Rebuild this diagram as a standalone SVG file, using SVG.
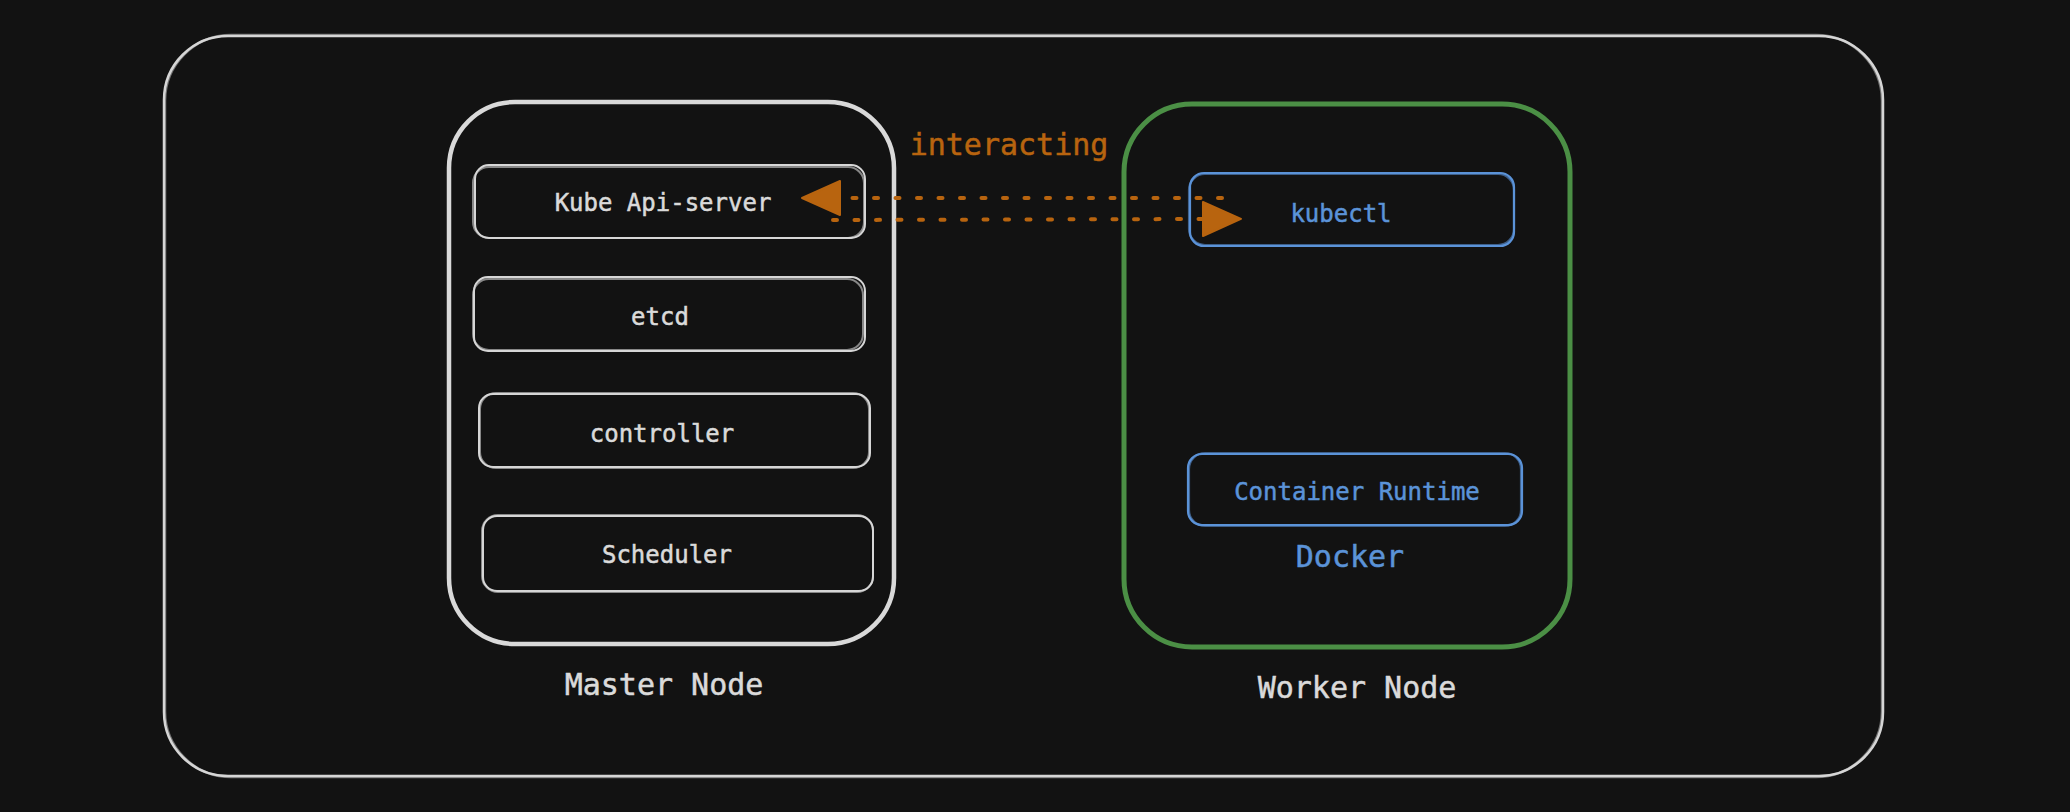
<svg xmlns="http://www.w3.org/2000/svg" width="2070" height="812" viewBox="0 0 2070 812">
  <style>
    .bg { fill: #121212; }
    .frame { fill: none; stroke: #d6d6d6; stroke-width: 2.5; }
    .master { fill: none; stroke: #d9d9d9; stroke-width: 4.5; }
    .worker { fill: none; stroke: #4b8f45; stroke-width: 5; }
    .box { fill: none; stroke: #d6d6d6; stroke-width: 2; }
    .bluebox { fill: none; stroke: #5b93d8; stroke-width: 2.2; }
    .t { font-family: "DejaVu Sans Mono", "Liberation Mono", monospace; text-anchor: middle; stroke-width: 0.5; }
    .small { font-size: 24px; }
    .big { font-size: 30px; }
    .gray { fill: #dadada; stroke: #dadada; }
    .blue { fill: #5b93d8; stroke: #5b93d8; }
    .orange { fill: #b8640f; stroke: #b8640f; }
    .dots { fill: none; stroke: #b8640f; stroke-width: 4; stroke-linecap: round; stroke-dasharray: 4 17.5; }
  </style>
  <defs>
    <marker id="head" markerUnits="userSpaceOnUse" markerWidth="44" markerHeight="40" viewBox="-2 -19 44 38" refX="0" refY="0" orient="auto" overflow="visible">
      <path d="M0,-17 L38,0 L0,17 Z" fill="#b8640f" stroke="#b8640f" stroke-width="2" stroke-linejoin="round"/>
    </marker>
  </defs>
  <rect class="bg" x="0" y="0" width="2070" height="812"/>

  <g id="frame">
    <rect class="frame" x="164" y="36" width="1719" height="740" rx="64" ry="64"/>
    <rect class="frame" x="165" y="35" width="1717" height="742" rx="66" ry="66" stroke-opacity="0.5"/>
  </g>

  <g id="master-node">
    <rect class="master" x="449" y="102" width="445" height="542" rx="66" ry="66"/>
    <text class="t big gray" x="664" y="695">Master Node</text>
  </g>

  <g id="kube-api-server">
    <rect class="box" x="475" y="165" width="390" height="73" rx="14" ry="14"/>
    <rect class="box" x="473" y="167" width="391" height="71" rx="16" ry="16" stroke-opacity="0.6"/>
    <text class="t small gray" x="663" y="211">Kube Api-server</text>
  </g>

  <g id="etcd">
    <rect class="box" x="474" y="277" width="391" height="74" rx="14" ry="14"/>
    <rect class="box" x="473" y="279" width="390" height="71" rx="16" ry="16" stroke-opacity="0.6"/>
    <text class="t small gray" x="660" y="325">etcd</text>
  </g>

  <g id="controller">
    <rect class="box" x="479" y="394" width="391" height="73" rx="14" ry="14"/>
    <rect class="box" x="480" y="393" width="389" height="75" rx="16" ry="16" stroke-opacity="0.6"/>
    <text class="t small gray" x="662" y="442">controller</text>
  </g>

  <g id="scheduler">
    <rect class="box" x="483" y="516" width="390" height="75" rx="14" ry="14"/>
    <rect class="box" x="482" y="515" width="391" height="77" rx="16" ry="16" stroke-opacity="0.6"/>
    <text class="t small gray" x="667" y="563">Scheduler</text>
  </g>

  <g id="worker-node">
    <rect class="worker" x="1124" y="104" width="446" height="543" rx="68" ry="68"/>
    <text class="t big gray" x="1357" y="698">Worker Node</text>
  </g>

  <g id="kubectl">
    <rect class="bluebox" x="1190" y="173" width="324" height="73" rx="14" ry="14"/>
    <rect class="bluebox" x="1189" y="174" width="325" height="71" rx="16" ry="16" stroke-opacity="0.6"/>
    <text class="t small blue" x="1341" y="222">kubectl</text>
  </g>

  <g id="container-runtime">
    <rect class="bluebox" x="1188" y="454" width="334" height="71" rx="14" ry="14"/>
    <rect class="bluebox" x="1189" y="453" width="332" height="73" rx="16" ry="16" stroke-opacity="0.6"/>
    <text class="t small blue" x="1357" y="500">Container Runtime</text>
  </g>

  <g id="docker">
    <text class="t big blue" x="1350" y="567">Docker</text>
  </g>

  <g id="connectors">
    <path class="dots" d="M1222,198 L840,198" marker-end="url(#head)"/>
    <path class="dots" d="M833,220 L1203,219" marker-end="url(#head)"/>
    <text class="t big orange" x="1009" y="155">interacting</text>
  </g>
</svg>
